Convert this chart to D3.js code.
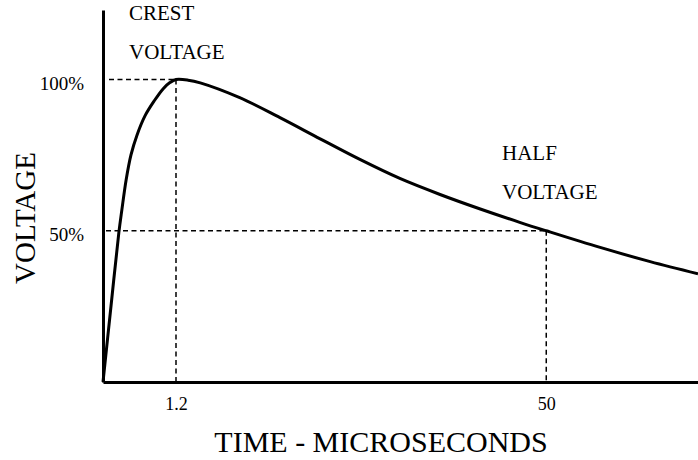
<!DOCTYPE html>
<html>
<head>
<meta charset="utf-8">
<script src="https://cdn.jsdelivr.net/npm/d3@7/dist/d3.min.js"></script>
<style>
  html, body { margin: 0; padding: 0; background: #fff; }
  svg { display: block; }
  text { font-family: "Liberation Serif", "Times New Roman", serif; fill: #000; }
</style>
</head>
<body>
<svg id="chart" width="698" height="460"></svg>
<script>
// Impulse waveform: time in microseconds, voltage in percent of crest
const timeUs = [0, 0.13, 0.26, 0.31, 0.38, 0.46, 0.56, 0.69, 0.84, 0.99, 1.1, 1.2, 2.8, 4.4, 9.6, 14.9, 20.2, 25.5, 30.7, 36.0, 41.3, 46.5, 50, 57.1, 63.7, 70];
const voltagePct = [0, 24.8, 49.3, 56.9, 66.8, 75.1, 81.7, 88.0, 92.9, 97.0, 99.0, 100, 99.8, 98.9, 94.0, 87.4, 80.4, 73.5, 67.3, 62.0, 57.2, 52.8, 50, 44.5, 39.8, 35.8];

// Marked instants and levels
const timeTicks = [1.2, 50];
const timeTickLabels = ["1.2", "50"];
const voltageTicks = [50, 100];
const voltageTickLabels = ["50%", "100%"];
const crestPoint = { t: 1.2, v: 100 };
const halfPoint = { t: 50, v: 50 };

const svg = d3.select("#chart");

// Time axis is schematic: the front (0–1.2 µs) is stretched
const x = d3.scaleLinear().domain([0, 1.2, 70]).range([103, 176, 698]);
const y = d3.scaleLinear().domain([0, 123]).range([382, 10]);

// Reference dashed lines
const dash = svg.append("g")
  .attr("fill", "none")
  .attr("stroke", "#000")
  .attr("stroke-width", 1.5)
  .attr("stroke-dasharray", "5,3.5");

dash.append("line")
  .attr("x1", x(0) + 6).attr("x2", x(crestPoint.t))
  .attr("y1", y(crestPoint.v)).attr("y2", y(crestPoint.v));
dash.append("line")
  .attr("x1", x(crestPoint.t)).attr("x2", x(crestPoint.t))
  .attr("y1", y(crestPoint.v)).attr("y2", y(0));
dash.append("line")
  .attr("x1", x(0) + 3).attr("x2", x(halfPoint.t))
  .attr("y1", y(halfPoint.v)).attr("y2", y(halfPoint.v));
dash.append("line")
  .attr("x1", x(halfPoint.t)).attr("x2", x(halfPoint.t))
  .attr("y1", y(halfPoint.v)).attr("y2", y(0));

// Axes
const xAxis = d3.axisBottom(x)
  .tickValues(timeTicks)
  .tickFormat((d, i) => timeTickLabels[i])
  .tickSize(0)
  .tickSizeOuter(0)
  .tickPadding(10);

const gx = svg.append("g")
  .attr("transform", `translate(0,${y(0)})`)
  .call(xAxis);
gx.select(".domain").attr("stroke-width", 3);
gx.selectAll("text")
  .style("font-family", '"Liberation Serif", "Times New Roman", serif')
  .style("font-size", "18px")
  .attr("dy", "1.0em");

const yAxis = d3.axisLeft(y)
  .tickValues(voltageTicks)
  .tickFormat((d, i) => voltageTickLabels[i])
  .tickSize(0)
  .tickSizeOuter(0)
  .tickPadding(19);

const gy = svg.append("g")
  .attr("transform", `translate(${x(0)},0)`)
  .call(yAxis);
gy.select(".domain").attr("stroke-width", 3);
gy.selectAll("text")
  .style("font-family", '"Liberation Serif", "Times New Roman", serif')
  .style("font-size", "19px")
  .attr("dy", "0.5em");

// Waveform
const points = timeUs.map((t, i) => [t, voltagePct[i]]);
const line = d3.line()
  .x(d => x(d[0]))
  .y(d => y(d[1]))
  .curve(d3.curveCatmullRom.alpha(0.5));

svg.append("path")
  .datum(points)
  .attr("d", line)
  .attr("fill", "none")
  .attr("stroke", "#000")
  .attr("stroke-width", 3)
  .attr("stroke-linejoin", "round");

// Annotations
const note = svg.append("g").style("font-size", "21px");
note.append("text").attr("x", 129).attr("y", 20).text("CREST");
note.append("text").attr("x", 129).attr("y", 59).text("VOLTAGE");
note.append("text").attr("x", 502).attr("y", 160).text("HALF");
note.append("text").attr("x", 502).attr("y", 199).text("VOLTAGE");

// Axis titles
svg.append("text")
  .attr("x", 381).attr("y", 452)
  .attr("text-anchor", "middle")
  .style("font-size", "30px")
  .text("TIME - MICROSECONDS");

svg.append("text")
  .attr("transform", "translate(35,218) rotate(-90)")
  .attr("text-anchor", "middle")
  .style("font-size", "29px")
  .text("VOLTAGE");
</script>
</body>
</html>
